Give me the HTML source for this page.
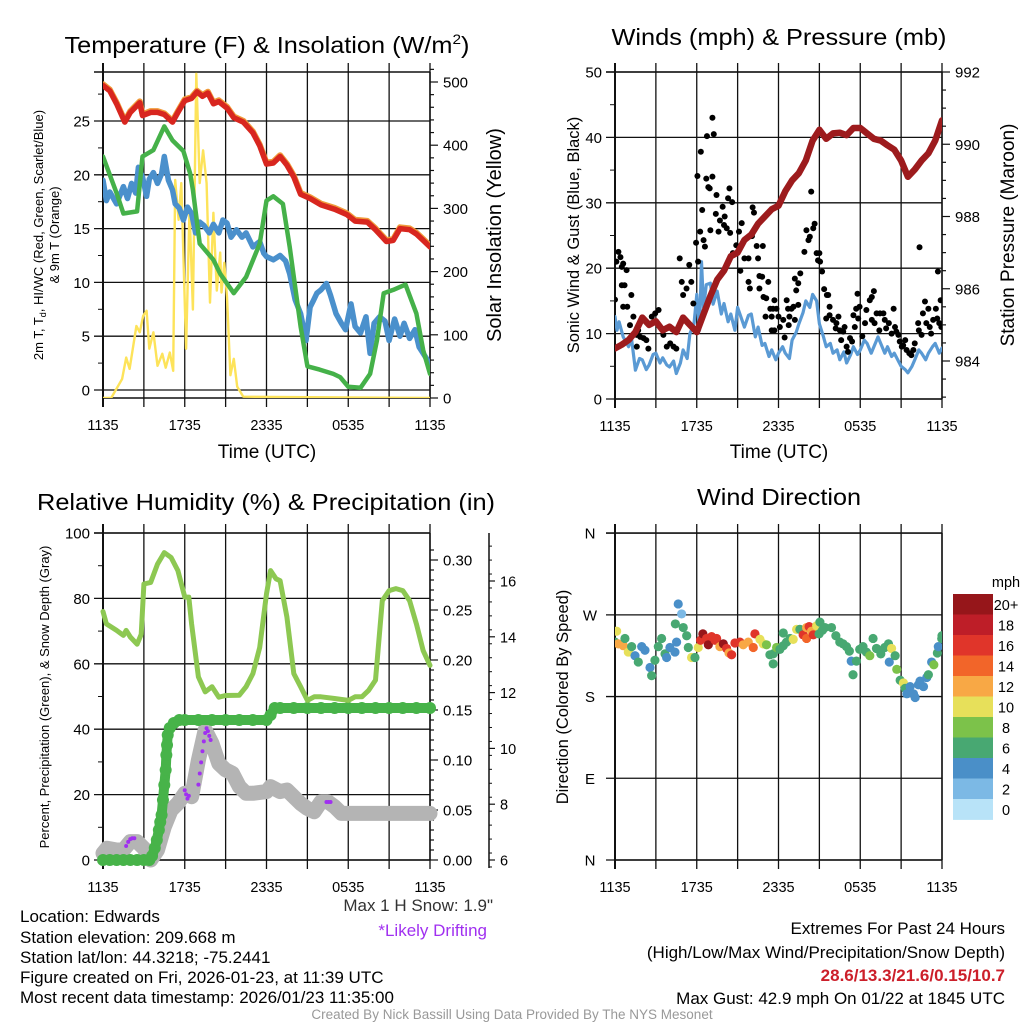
<!DOCTYPE html>
<html><head><meta charset="utf-8"><style>
html,body{margin:0;padding:0;background:#fff}
svg{display:block;font-family:"Liberation Sans",Arial,sans-serif}
</style></head><body>
<svg id="fig" width="1024" height="1024" viewBox="0 0 1024 1024" xmlns="http://www.w3.org/2000/svg">
<rect width="1024" height="1024" fill="#fff"/>
<defs>
<clipPath id="c1"><rect x="103" y="72" width="327" height="326"/></clipPath>
<clipPath id="c2"><rect x="615" y="72" width="327" height="327"/></clipPath>
<clipPath id="c3"><rect x="94" y="533" width="346" height="337"/></clipPath>
<clipPath id="c4"><rect x="615" y="533" width="327" height="327"/></clipPath>
</defs>
<g id="layer"></g>
<g font-size="23" text-anchor="middle" fill="#000">
<text x="267" y="53" textLength="405" lengthAdjust="spacingAndGlyphs">Temperature (F) &amp; Insolation (W/m<tspan dy="-9" font-size="14">2</tspan><tspan dy="9">)</tspan></text>
<text x="779" y="45" textLength="335" lengthAdjust="spacingAndGlyphs">Winds (mph) &amp; Pressure (mb)</text>
<text x="266" y="510" textLength="458" lengthAdjust="spacingAndGlyphs">Relative Humidity (%) &amp; Precipitation (in)</text>
<text x="779" y="505" textLength="164" lengthAdjust="spacingAndGlyphs">Wind Direction</text>
</g>
<g font-size="19" text-anchor="middle">
<text x="267" y="458">Time (UTC)</text>
<text x="779" y="458">Time (UTC)</text>
<text font-size="13" transform="translate(43,235) rotate(-90)">2m T, T<tspan font-size="9" dy="3">d</tspan><tspan dy="-3">, HI/WC (Red, Green, Scarlet/Blue)</tspan></text>
<text font-size="13" transform="translate(59,235) rotate(-90)">&amp; 9m T (Orange)</text>
<text font-size="20" transform="translate(501,235) rotate(-90)">Solar Insolation (Yellow)</text>
<text font-size="16.5" transform="translate(579,235) rotate(-90)">Sonic Wind &amp; Gust (Blue, Black)</text>
<text font-size="19" transform="translate(1014,235) rotate(-90)">Station Pressure (Maroon)</text>
<text font-size="13" transform="translate(49,697) rotate(-90)">Percent, Precipitation (Green), &amp; Snow Depth (Gray)</text>
<text font-size="16.5" transform="translate(568,697) rotate(-90)">Direction (Colored By Speed)</text>
</g>
<g font-size="17" fill="#000">
<text x="493" y="911" text-anchor="end" fill="#333">Max 1 H Snow: 1.9"</text>
<text x="487" y="936" text-anchor="end" fill="#a030f0">*Likely Drifting</text>
<text x="20" y="922">Location: Edwards</text>
<text x="20" y="943">Station elevation: 209.668 m</text>
<text x="20" y="963">Station lat/lon: 44.3218; -75.2441</text>
<text x="20" y="983">Figure created on Fri, 2026-01-23, at 11:39 UTC</text>
<text x="20" y="1003">Most recent data timestamp: 2026/01/23 11:35:00</text>
<text x="1005" y="934" text-anchor="end">Extremes For Past 24 Hours</text>
<text x="1005" y="958" text-anchor="end">(High/Low/Max Wind/Precipitation/Snow Depth)</text>
<text x="1005" y="981" text-anchor="end" fill="#cc1f2a" font-weight="bold">28.6/13.3/21.6/0.15/10.7</text>
<text x="1005" y="1004" text-anchor="end">Max Gust: 42.9 mph On 01/22 at 1845 UTC</text>
<text x="512" y="1019" text-anchor="middle" font-size="13.5" fill="#999">Created By Nick Bassill Using Data Provided By The NYS Mesonet</text>
</g>
</svg>
<script>
// ===== Data =====
const timeTickLabels = ["1135","1735","2335","0535","1135"];
const tempTickLabels = ["0","5","10","15","20","25"];
const solarTickLabels = ["0","100","200","300","400","500"];
// Temperature panel
const tempHours = [0,0.5,1,1.6,2,2.7,2.9,3.5,4,4.5,5.1,5.5,6,6.5,6.9,7.3,7.7,8.1,8.5,9.1,9.6,10.3,11,11.5,12,12.5,13,13.5,14,14.5,15.2,16,17,17.9,18.5,19.4,20,20.8,21.3,21.8,22.5,23,23.5,24];
const tempValues = [28.3,27.8,26.6,24.9,25.8,26.7,25.5,25.8,25.8,25.6,24.9,25.8,26.9,27.1,27.7,27.3,27.6,26.6,26.8,26.2,25.3,24.9,23.9,22.7,21.0,21.1,21.7,20.9,19.8,18.2,17.8,17.2,16.8,16.3,15.7,15.6,14.9,13.8,13.9,15.0,14.9,14.5,13.9,13.3];
const dewHours = [0,1,1.5,2.5,2.9,3.7,4.5,5.1,5.9,6.4,6.6,7.1,8.1,8.6,9.6,10.5,11.5,12,12.5,13.2,13.7,14.5,15,15.9,16.9,17.4,18,18.9,19.6,20.1,20.6,21.3,22.2,23,23.5,24];
const dewValues = [21.7,18.3,16.4,16.6,21.7,22.3,24.5,23.2,22.2,20.1,18.6,13.6,12.1,10.8,9.0,10.5,13.6,17.6,18.0,17.3,13.3,5.9,2.2,1.9,1.5,1.2,0.3,0.2,1.5,4.6,9.0,9.3,9.8,7.1,3.7,1.5];
const chillHours = [0,0.25,0.5,1,1.5,1.8,2.1,2.4,2.6,2.9,3.2,3.4,3.7,4,4.3,4.5,4.8,5.1,5.3,5.6,5.9,6.2,6.5,6.8,7.1,7.4,7.8,8.1,8.5,8.8,9.1,9.4,9.8,10.2,10.5,11,11.5,11.8,12,12.5,13,13.4,13.7,14.1,14.5,14.9,15.2,15.4,15.7,16,16.4,16.7,17.1,17.5,17.8,18.2,18.5,18.9,19.3,19.6,19.9,20.3,20.7,21,21.4,21.8,22.1,22.5,22.9,23.2,23.5,23.8,24];
const chillValues = [19.5,17.6,18.4,17.3,18.9,17.8,19.2,18.3,20.7,19.8,18.0,19.6,20.2,19.2,20.1,21.7,19.5,18.6,17.3,16.9,15.8,17.0,16.4,14.6,15.6,15.3,14.6,15.4,14.6,15.8,15.5,14.2,14.9,14.2,14.6,13.3,13.8,12.7,12.4,12.1,12.5,12.0,10.8,8.4,7.1,4.6,7.7,8.2,9.0,9.3,9.9,8.8,7.1,6.2,5.6,8.0,5.9,5.3,6.8,3.4,6.2,6.8,6.4,4.6,6.6,5.0,6.2,4.8,5.6,4.0,3.4,2.8,1.9];
const solarHours = [0,0.6,1.4,1.7,1.95,2.45,2.7,2.95,3.2,3.4,3.7,4.0,4.35,4.6,4.9,5.15,5.3,5.55,5.75,6.1,6.35,6.6,6.85,7.1,7.35,7.6,7.85,8.1,8.35,8.6,8.7,8.9,9.1,9.35,9.6,9.85,10.3,24];
const solarValues = [0,0,30,64,46,114,104,130,138,78,104,51,70,48,72,43,345,282,340,78,298,140,513,340,392,340,151,293,170,230,167,214,160,36,62,18,2,0];
// Winds panel
const windTickLabels = ["0","10","20","30","40","50"];
const pressTickLabels = ["984","986","988","990","992"];
const sonicHours = [0,0.15,0.3,0.6,1,1.2,1.5,1.8,2,2.3,2.5,2.8,3,3.3,3.5,3.8,4,4.3,4.5,4.8,5,5.3,5.5,5.8,6,6.2,6.35,6.5,6.7,7,7.2,7.5,7.8,8,8.3,8.5,8.8,9,9.3,9.5,9.8,10,10.3,10.5,10.8,11,11.3,11.5,11.8,12,12.3,12.5,12.8,13,13.3,13.5,13.8,14,14.3,14.5,14.8,15,15.3,15.5,15.8,16,16.3,16.5,16.8,17,17.3,17.5,17.8,18,18.3,18.5,18.8,19,19.3,19.5,19.8,20,20.3,20.5,20.8,21,21.3,21.5,21.8,22,22.3,22.5,22.8,23,23.3,23.5,23.8,24];
const sonicValues = [12.6,10.5,11.8,9.5,8.0,9.4,4.4,6.2,6.0,4.5,5.2,6.8,7.0,5.5,6.3,5.2,4.9,5.8,3.9,5.5,7.5,6.2,10.0,11.5,16.0,10.5,21.0,14.0,17.5,17.7,14.5,16.5,13.0,14.6,11.8,13.0,10.5,14.0,12.2,11.0,12.8,13.0,9.5,11.0,8.2,8.5,6.5,7.5,6.0,7.0,8.0,7.0,6.2,9.0,10.2,11.5,13.2,15.0,14.0,16.0,15.0,11.5,9.5,8.0,8.5,7.0,7.5,6.0,7.2,5.5,6.8,8.0,6.8,7.5,9.0,8.5,7.0,8.0,9.5,8.5,7.0,8.0,6.5,7.0,5.8,5.0,4.5,4.0,5.0,6.0,7.5,7.0,6.0,7.0,8.0,8.5,7.0,7.8];
const gustHours = [0,0.1,0.25,0.4,0.5,0.6,0.85,0.5,0.7,0.6,0.9,1.2,1.1,1.35,1.6,1.7,1.85,2.1,2.3,1.6,2.45,2.7,2.95,3.2,3.3,3.55,3.8,4.05,4.3,4.5,4.75,4.9,5,5.25,5.45,5.6,5.75,5.95,6.1,6.25,6.4,6.3,6.05,6.5,6.6,6.7,6.85,6.75,7.15,7.25,7.15,6.95,7,7.4,7.45,7.6,7.7,7.9,8.05,8,8.2,8.3,8.4,8.6,8.45,8.65,8.9,9.1,9.3,9.2,9.5,9.8,10.1,10.2,10.05,10.4,10.5,10.85,10.6,10.8,9.8,9.9,10.6,11.25,10.9,11.1,11.4,11.6,11.7,11.85,11.05,11.5,12,11.7,11.5,12.1,12.35,12.6,12.7,12.95,12.8,13.2,13.1,13.45,12.45,12.75,13.2,13.45,13.6,13.3,13.9,14.05,14.2,14.3,14.55,14.65,14.4,14.8,15,14.9,15.05,15.2,15.35,15.55,15.65,15.75,15.5,15.75,16,16.25,16.4,16.2,16.5,16.75,16.85,16.6,17,17.1,17.25,17.4,17.6,17.7,17.5,17.85,17.95,17.8,18.15,18.35,18.45,18.7,18.85,19,18.85,19.05,19.2,19.4,19.45,19.7,19.8,19.9,20.1,20.3,20.45,20.55,20.65,20.8,20.9,21.05,21.15,21.3,21.4,21.6,21.75,21.9,22,22.25,22.35,22.3,22.5,22.6,22.75,22.85,23,23.1,23.2,23.35,23.55,23.65,23.7,23.8,23.9,23.95];
const gustValues = [15.2,21,22.5,21.7,20.2,20.7,19.7,17.4,17.4,14.1,14.1,15.9,11.3,12.6,9.8,10.5,9.5,9.3,9,8,7.7,12.6,13.1,13.6,11,9.8,8,8.5,8,7.7,21.5,17.9,15.9,16.9,20.5,17.9,14.6,23.9,21,25.6,28.9,37.8,34.1,24.3,23.3,33.7,32.4,40.2,43,40.5,34,32.2,25.8,28.3,31.2,25.6,27.3,29.4,27.9,26.6,26.1,30.7,32.2,30.1,25.4,22.3,23.5,25.6,26.9,19.6,21.5,21.5,29.3,28.5,24.9,23.4,21.5,23.4,18.8,18.7,17.9,16.9,16.9,17.9,15.6,15.4,13.8,13.8,15.1,13.8,12.6,12.6,12.6,10.5,10.5,11,12.1,15.1,13.8,13.8,12.6,12.1,14.1,14.4,9.4,11.3,18.4,17.7,19.2,16.6,22.5,25.8,24.3,24.8,26.1,26.8,31.7,22.3,22.3,21.2,21,19.5,16.8,15.9,15.9,14.1,12.3,12.8,12.1,11.6,12.6,10.8,10.5,10.3,11,9,8,7.2,9.3,8.8,11,13.8,12.8,12.3,14.1,16.1,9.6,11.6,13.6,15.1,15.6,16.5,12.1,11.6,13.1,10.5,13.1,13.1,12.1,10.8,11.6,10,13.8,11,10.3,9.8,8.8,8,8.2,9,7.5,7,6.7,7.5,8.5,11.6,23.2,10.5,9.8,13.1,14.9,11.6,13.8,11,10,12.1,13.8,12.3,19.5,11.6,15.1,11];
const pressHours = [0,0.5,1,1.5,2,2.5,3,3.5,4,4.5,5,5.5,6,6.5,7,7.5,8,8.5,9,9.5,10,10.5,11,11.5,12,12.5,13,13.5,14,14.5,15,15.5,16,16.5,17,17.5,18,18.5,19,19.5,20,20.5,21,21.5,22,22.5,23,23.5,24];
const pressValues = [984.35,984.45,984.58,984.8,985.2,985.0,985.1,984.85,984.95,984.8,985.2,985.0,984.8,985.3,985.8,986.25,986.5,986.9,987.0,987.35,987.5,987.8,988.0,988.2,988.3,988.7,989.0,989.2,989.55,990.1,990.4,990.15,990.3,990.32,990.25,990.45,990.45,990.3,990.15,990.1,989.97,989.85,989.55,989.1,989.3,989.55,989.75,990.1,990.66];
// RH / precip / snow panel
const pctTickLabels = ["0","20","40","60","80","100"];
const precipTickLabels = ["0.00","0.05","0.10","0.15","0.20","0.25","0.30"];
const snowTickLabels = ["6","8","10","12","14","16"];
const rhHours = [0,0.25,1,1.5,1.7,2,2.5,2.8,3,3.5,4,4.5,5,5.5,6,6.3,6.5,7,7.5,8,8.5,9,10,10.5,11,11.5,12,12.3,12.7,13,13.5,14,14.5,15,15.5,16,17,18,18.5,19,19.5,20,20.5,21,21.5,22,22.5,23,23.5,24];
const rhValues = [76,72.2,70.2,68.7,70.2,68.2,66,69,84.4,84.9,90.5,94,92.5,88.5,80.4,80.4,72.2,56,51.4,53,49.8,50.3,50.4,53,57,65,81.4,88.5,86,85.4,74.3,57,53,48.8,49.9,49.9,49.4,48.8,49.9,49.9,51.9,55,79.3,82.4,83,82.4,79.3,72.2,64,59.5];
const precipHours = [0,0.5,1,1.5,2,2.5,3,3.4,3.6,3.8,3.95,4.1,4.2,4.3,4.4,4.5,4.6,4.65,4.7,4.75,4.9,5.2,5.6,6,7,8,9,10,11,12,12.3,12.6,13,14,15,16,17,18,19,20,21,22,23,24];
const precipValues = [0,0,0,0,0,0,0,0,0.004,0.012,0.02,0.03,0.038,0.045,0.06,0.075,0.09,0.105,0.115,0.125,0.132,0.137,0.14,0.14,0.14,0.14,0.14,0.14,0.14,0.14,0.145,0.152,0.152,0.152,0.152,0.152,0.152,0.152,0.152,0.152,0.152,0.152,0.152,0.152];
const snowHours = [0,0.3,1,1.5,2,2.5,3,3.5,4,4.5,5,5.5,6,6.5,7,7.5,8,8.5,9,9.5,10,10.5,11,12,12.3,13,13.5,14,14.5,15,15.5,16,16.5,17,17.5,18,20,22,24];
const snowValues = [6.24,6.42,6.36,6.36,6.66,6.66,6.42,6.0,6.36,7.19,7.79,8.03,8.39,8.27,9.58,10.66,10.18,9.46,9.23,9.11,8.63,8.39,8.39,8.45,8.63,8.45,8.51,8.27,8.03,7.85,7.73,8.09,8.09,7.91,7.67,7.67,7.67,7.67,7.67];
const driftHours = [1.7,1.85,2.0,2.15,2.3,6.0,6.1,6.2,6.3,7.0,7.1,7.2,7.3,7.4,7.5,7.6,7.7,7.8,7.9,16.4,16.55,16.7];
const driftValues = [6.5,6.65,6.75,6.78,6.78,8.5,8.35,8.2,8.3,8.7,9.1,9.5,9.9,10.25,10.55,10.72,10.62,10.45,10.3,8.08,8.08,8.08];
// Wind direction panel
const dirTickLabels = ["N","E","S","W","N"];
const speedBins = ["0","2","4","6","8","10","12","14","16","18","20+"];
const dirHours = [0,0.12,0.24,0.61,0.73,0.98,1.22,1.47,1.71,1.96,2.2,2.57,2.69,2.93,3.18,3.42,3.67,3.79,4.03,4.4,4.52,4.64,4.43,4.89,5.01,5.26,5.38,5.62,5.87,6.11,6.28,6.45,6.72,6.85,7.09,7.34,7.46,7.7,7.95,8.19,8.37,8.56,8.8,9.17,9.41,9.78,10.15,10.27,10.64,10.88,11.12,11.37,11.61,11.61,11.86,12.1,12.35,12.59,12.84,12.35,13.08,13.33,13.57,13.81,14.06,14.06,14.25,14.43,14.55,14.8,14.98,15.04,15.23,15.41,15.89,16.21,16.5,16.74,16.99,17.2,17.34,17.47,17.72,17.96,18.2,18.45,18.7,18.94,19.19,19.51,19.8,20.07,20.3,20.13,20.56,20.68,20.93,21.17,21.3,21.42,21.66,21.91,22.03,22.27,22.39,22.64,22.88,23.0,23.24,23.4,23.66,23.73,23.98,24.0];
const dirValues = [240,252,238,236,244,229,235,225,218,235,231,212,203,220,235,244,227,223,234,229,240,282,260,271,256,247,234,223,223,234,242,249,244,237,246,242,244,235,238,233,228,226,239,240,237,240,234,249,243,238,237,226,227,216,234,232,236,240,244,250,243,254,254,248,244,256,257,252,248,258,249,262,253,256,256,247,240,238,235,230,219,204,219,232,235,229,225,244,233,227,234,238,233,218,225,210,198,195,189,183,191,183,179,193,197,191,201,204,218,215,228,235,244,247,255,262,256,245];
const dirSpeeds = [7,11,13,13,7,11,7,5,7,5,5,5,7,7,7,7,7,5,5,5,5,5,7,3,7,7,7,11,7,11,17,21,17,21,17,17,17,13,21,17,13,17,17,17,13,13,15,17,11,11,9,7,7,7,9,7,7,7,7,7,11,11,7,17,15,13,17,13,17,11,7,7,7,7,7,7,7,7,7,7,5,7,7,7,7,7,9,7,7,7,7,7,11,5,7,9,7,11,7,5,5,5,5,5,5,5,5,7,5,9,7,5,7,7,7,7,7];
</script>
<script>
const NS = "http://www.w3.org/2000/svg";
const layer = document.getElementById('layer');
function mk(tag, attrs, parent) {
  const e = document.createElementNS(NS, tag);
  for (const k in attrs) e.setAttribute(k, attrs[k]);
  (parent || layer).appendChild(e);
  return e;
}
function grp(name, clip) {
  const g = mk('g', clip ? {'clip-path': 'url(#' + clip + ')'} : {});
  
  
  return g;
}
const P = {
  p1: {x0: 103, x1: 430, yt: 72, yb: 398},
  p2: {x0: 615, x1: 942, yt: 72, yb: 399},
  p3: {x0: 103, x1: 430, yt: 533, yb: 860},
  p4: {x0: 615, x1: 942, yt: 533, yb: 860}
};
function xs(p, h) { return p.x0 + h * (p.x1 - p.x0) / 24; }
const yTemp = v => 390 - v * 10.76;
const ySolar = v => 398 - v * 0.632;
const yWind = v => 399 - v * 6.54;
const yPress = v => 361 - (v - 984) * 36.125;
const yPct = v => 860 - v * 3.27;
const yPrecip = v => 860 - v * 1000;
const ySnow = v => 860 - (v - 6) * 27.9;
const yDir = v => 860 - v * 0.908;

function frame(p, name) {
  const g = grp(name);
  for (let i = 0; i <= 8; i++) {
    const x = xs(p, i * 3);
    const l = mk('line', {x1: x, x2: x, y1: p.yt - 9, y2: p.yb + 9, stroke: '#111', 'stroke-width': (i == 0 ? 2 : 1.3)}, g);
    
    
  }
  mk('line', {x1: p.x0 - 9, x2: p.x1, y1: p.yt, y2: p.yt, stroke: '#111', 'stroke-width': 1.5}, g);
  mk('line', {x1: p.x0, x2: p.x1, y1: p.yb, y2: p.yb, stroke: '#111', 'stroke-width': 1.5}, g);
  mk('line', {x1: p.x1, x2: p.x1, y1: p.yt, y2: p.yb, stroke: '#111', 'stroke-width': 1.5}, g);
  timeTickLabels.forEach((t, i) => {
    const tx = mk('text', {x: xs(p, i * 6), y: p.yb + 32, 'font-size': 14.5, 'text-anchor': 'middle'}, g);
    
    
    tx.textContent = t;
  });
  return g;
}
function hgrid(p, g, y, label) {
  mk('line', {x1: p.x0 - 9, x2: p.x1, y1: y, y2: y, stroke: '#111', 'stroke-width': 1.3}, g);
  const t = mk('text', {x: p.x0 - 13, y: y + 5.5, 'font-size': 15, 'text-anchor': 'end'}, g);
  
  
  t.textContent = label;
}
function rtick(g, x, y, len, label, fs) {
  mk('line', {x1: x, x2: x + len, y1: y, y2: y, stroke: '#111', 'stroke-width': 1.2}, g);
  if (label !== null) {
    const t = mk('text', {x: x + len + 5, y: y + 5.5, 'font-size': fs || 15}, g);
    
    
    t.textContent = label;
  }
}
function line(p, g, hs, vs, ys, color, w) {
  const pts = hs.map((h, i) => xs(p, h).toFixed(1) + ',' + ys(vs[i]).toFixed(1)).join(' ');
  return mk('polyline', {points: pts, fill: 'none', stroke: color, 'stroke-width': w, 'stroke-linejoin': 'round', 'stroke-linecap': 'round'}, g);
}

// ===== Panel 1 =====
(function () {
  const p = P.p1, g = frame(p, 'temperature-panel');
  tempTickLabels.forEach(l => hgrid(p, g, yTemp(+l), l));
  for (let v = 2.5; v < 29; v += 5) mk('line', {x1: p.x0 - 5, x2: p.x0, y1: yTemp(v), y2: yTemp(v), stroke: '#111'}, g);
  for (let v = 0; v <= 520; v += 20) rtick(g, p.x1, ySolar(v), v % 100 ? 4 : 8, v % 100 ? null : String(v));
  mk('line', {x1: p.x0, x2: p.x0, y1: p.yt, y2: p.yb, stroke: '#111', 'stroke-width': 2}, g);
  const d = grp('temperature-series', 'c1');
  const s = line(p, d, solarHours, solarValues, ySolar, '#fde35a', 2.4);
   
  const c = line(p, d, chillHours, chillValues, yTemp, '#4a90cc', 5.5);
   
  const dw = line(p, d, dewHours, dewValues, yTemp, '#45b149', 4.5);
   
  const o = line(p, d, tempHours, tempValues.map(v => v + 0.12), yTemp, '#f09a3a', 6);
   
  const r = line(p, d, tempHours, tempValues, yTemp, '#d8261f', 5.5);
   
})();

// ===== Panel 2 =====
(function () {
  const p = P.p2, g = frame(p, 'winds-panel');
  windTickLabels.forEach(l => hgrid(p, g, yWind(+l), l));
  for (let v = 5; v < 50; v += 10) mk('line', {x1: p.x0 - 5, x2: p.x0, y1: yWind(v), y2: yWind(v), stroke: '#111'}, g);
  for (let v = 983; v <= 992; v += 0.5) rtick(g, p.x1, yPress(v), (v % 2 === 0) ? 8 : 4, (v % 2 === 0) ? String(v) : null);
  mk('line', {x1: p.x0, x2: p.x0, y1: p.yt, y2: p.yb, stroke: '#111', 'stroke-width': 2}, g);
  const d = grp('wind-series', 'c2');
  const b = line(p, d, sonicHours, sonicValues, yWind, '#5a9ad4', 3.2);
   
  gustHours.forEach((h, i) => {
    const c = mk('circle', {cx: xs(p, h), cy: yWind(gustValues[i]), r: 3, fill: '#000'}, d);
    
    
  });
  const r = line(p, d, pressHours, pressValues, yPress, '#9d1b1d', 6.5);
   
})();

// ===== Panel 3 =====
(function () {
  const p = P.p3, g = frame(p, 'humidity-panel');
  pctTickLabels.forEach(l => hgrid(p, g, yPct(+l), l));
  for (let v = 10; v < 100; v += 20) mk('line', {x1: p.x0 - 5, x2: p.x0, y1: yPct(v), y2: yPct(v), stroke: '#111'}, g);
  for (let k = 0; k <= 31; k++) { const v = k / 100; rtick(g, p.x1, yPrecip(v), k % 5 ? 4 : 8, k % 5 ? null : precipTickLabels[k / 5]); }
  const ax = grp('snow-depth-axis');
  mk('line', {x1: 489, x2: 489, y1: 533, y2: 868, stroke: '#111', 'stroke-width': 1.5}, ax);
  for (let v = 5.75; v <= 18; v += 0.5) { const y = ySnow(v); if (y < 534) continue; mk('line', {x1: 489, x2: 492, y1: y, y2: y, stroke: '#111'}, ax); }
  snowTickLabels.forEach(l => rtick(ax, 489, ySnow(+l), 6, l, 14.5));
  mk('line', {x1: p.x0, x2: p.x0, y1: p.yt, y2: p.yb, stroke: '#111', 'stroke-width': 2}, g);
  const d = grp('humidity-series', 'c3');
  const s = line(p, d, snowHours, snowValues, ySnow, '#b4b4b4', 15);
   
  const pl = line(p, d, precipHours, precipValues, yPrecip, '#47b349', 10);
   
  precipHours.forEach((h, i) => {
    const c = mk('circle', {cx: xs(p, h), cy: yPrecip(precipValues[i]), r: 6, fill: '#47b349'}, d);
    
    
  });
  driftHours.forEach((h, i) => {
    const c = mk('circle', {cx: xs(p, h), cy: ySnow(driftValues[i]), r: 2, fill: '#a030f0'}, d);
    
    
  });
  const rh = line(p, d, rhHours, rhValues, yPct, '#8dc852', 5);
   
})();

// ===== Panel 4 =====
const binColors = ['#b8e3f8','#7cb9e5','#4a8fc8','#48a872','#7cc24a','#e7e05a','#f8a845','#f26529','#e0352a','#be1e28','#96161a'];
function colorFor(s) { return binColors[Math.min(10, Math.floor(s / 2))]; }
(function () {
  const p = P.p4, g = frame(p, 'direction-panel');
  dirTickLabels.forEach((l, i) => {
    const y = yDir(i * 90);
    mk('line', {x1: p.x0 - 9, x2: p.x1, y1: y, y2: y, stroke: '#111', 'stroke-width': 1.3}, g);
    const t = mk('text', {x: 590, y: y + 5.5, 'font-size': 15, 'text-anchor': 'middle'}, g);
    
    
    t.textContent = l;
  });
  mk('line', {x1: p.x0, x2: p.x0, y1: p.yt, y2: p.yb, stroke: '#111', 'stroke-width': 2}, g);
  const d = grp('direction-series', 'c4');
  dirHours.forEach((h, i) => {
    const c = mk('circle', {cx: xs(p, h), cy: yDir(dirValues[i]), r: 4.6, fill: colorFor(dirSpeeds[i])}, d);
    
    
  });
  const lg = grp('speed-legend');
  const u = mk('text', {x: 1006, y: 587, 'font-size': 14.5, 'text-anchor': 'middle'}, lg);
  
  
  u.textContent = 'mph';
  speedBins.slice().reverse().forEach((lab, k) => {
    const y = 594 + k * 20.5;
    const r = mk('rect', {x: 953, y: y, width: 40, height: 20.9, fill: binColors[10 - k]}, lg);
    
    
    const t = mk('text', {x: 1006, y: y + 16, 'font-size': 14.5, 'text-anchor': 'middle'}, lg);
    
    
    t.textContent = lab;
  });
})();
</script>
</body></html>
